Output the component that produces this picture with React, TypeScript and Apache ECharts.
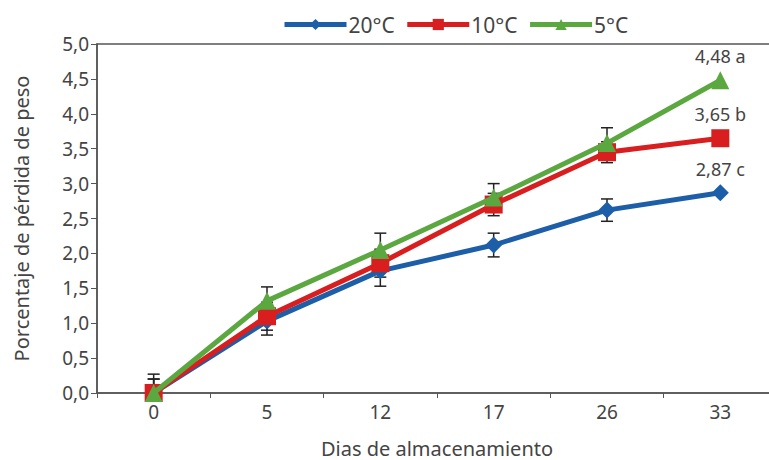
import React, { useEffect, useRef } from "react";
import * as echarts from "echarts";

const categories = ["0", "5", "12", "17", "26", "33"];
const yTicks = [0, 0.5, 1, 1.5, 2, 2.5, 3, 3.5, 4, 4.5, 5];
const seriesNames = ["20°C", "10°C", "5°C"];
const blueVals = [0.0, 1.03, 1.75, 2.12, 2.62, 2.87];
const redVals = [0.0, 1.1, 1.86, 2.7, 3.45, 3.65];
const greenVals = [0.0, 1.32, 2.05, 2.8, 3.58, 4.48];
const blueErr = [0.27, 0.2, 0.22, 0.17, 0.16, 0];
const redErr = [0.2, 0.2, 0.2, 0.16, 0.15, 0];
const greenErr = [0.2, 0.2, 0.24, 0.2, 0.22, 0];
const endLabels = ["2,87 c", "3,65 b", "4,48 a"];

const FONT = "'Noto Sans', sans-serif";
const TXT = "#444";

export default function App() {
  const ref = useRef<HTMLDivElement>(null);
  useEffect(() => {
    if (!ref.current) return;
    const chart = echarts.init(ref.current, undefined, { renderer: "svg" });

    const mk = (
      name: string,
      vals: number[],
      color: string,
      symbol: string,
      size: number,
      label: string,
      z: number
    ) => ({
      name,
      type: "line",
      z,
      data: vals.map((v, i) =>
        i === vals.length - 1
          ? {
              value: v,
              label: {
                show: true,
                formatter: label,
                position: "top",
                distance: 6,
                color: TXT,
                fontSize: 18,
                fontFamily: FONT,
              },
            }
          : v
      ),
      symbol,
      symbolSize: size,
      showSymbol: true,
      itemStyle: { color },
      lineStyle: { color, width: 5 },
    });

    const errData: number[][] = [];
    [blueVals, redVals, greenVals].forEach((vals, s) => {
      const errs = [blueErr, redErr, greenErr][s];
      vals.forEach((v, i) => {
        if (errs[i] > 0) errData.push([i, Math.max(0, v - errs[i]), v + errs[i]]);
      });
    });

    chart.setOption({
      animation: false,
      backgroundColor: "#ffffff",
      textStyle: { fontFamily: FONT },
      legend: {
        left: 277,
        top: 9,
        itemWidth: 62,
        itemHeight: 14,
        itemGap: 10,
        data: seriesNames,
        lineStyle: { width: 5 },
        textStyle: { fontSize: 21, color: TXT, fontFamily: FONT, padding: [0, 0, 0, -3] },
      },
      grid: {
        left: 97,
        top: 44,
        width: 680,
        height: 349,
        outerBoundsMode: "none",
        containLabel: false,
        show: true,
        borderColor: "#555",
        borderWidth: 1.5,
        backgroundColor: "transparent",
      },
      xAxis: {
        type: "category",
        data: categories,
        boundaryGap: true,
        name: "Dias de almacenamiento",
        nameLocation: "middle",
        nameGap: 45,
        nameTextStyle: { fontSize: 20, color: TXT, fontFamily: FONT },
        axisLine: { lineStyle: { color: "#555", width: 1.5 } },
        axisTick: { show: true, length: 5, lineStyle: { color: "#555" } },
        axisLabel: { fontSize: 19, color: TXT, margin: 9, fontFamily: FONT },
        splitLine: { show: false },
      },
      yAxis: {
        type: "value",
        min: yTicks[0],
        max: yTicks[yTicks.length - 1],
        interval: 0.5,
        name: "Porcentaje de pérdida de peso",
        nameLocation: "middle",
        nameGap: 66,
        nameTextStyle: { fontSize: 20, color: TXT, fontFamily: FONT },
        axisLine: { show: true, lineStyle: { color: "#555", width: 1.5 } },
        axisTick: { show: true, length: 6, lineStyle: { color: "#555" } },
        axisLabel: {
          fontSize: 19,
          color: TXT,
          margin: 8,
          fontFamily: FONT,
          formatter: (v: number) => v.toFixed(1).replace(".", ","),
        },
        splitLine: { show: false },
      },
      series: [
        {
          type: "custom",
          z: 1,
          silent: true,
          data: errData,
          renderItem: (params: any, api: any) => {
            const x = api.value(0);
            const lo = api.coord([x, api.value(1)]);
            const hi = api.coord([x, api.value(2)]);
            const hw = 6;
            const st = { stroke: "#222", lineWidth: 1.5 };
            return {
              type: "group",
              children: [
                { type: "line", shape: { x1: hi[0], y1: hi[1], x2: lo[0], y2: lo[1] }, style: st },
                { type: "line", shape: { x1: hi[0] - hw, y1: hi[1], x2: hi[0] + hw, y2: hi[1] }, style: st },
                { type: "line", shape: { x1: lo[0] - hw, y1: lo[1], x2: lo[0] + hw, y2: lo[1] }, style: st },
              ],
            };
          },
        },
        mk(seriesNames[0], blueVals, "#1d5ea8", "diamond", 17, endLabels[0], 2),
        mk(seriesNames[1], redVals, "#d81e1e", "rect", 18, endLabels[1], 3),
        mk(seriesNames[2], greenVals, "#5aa83f", "triangle", 18, endLabels[2], 4),
      ],
    });
    return () => chart.dispose();
  }, []);
  return (
    <div
      ref={ref}
      style={{ position: "absolute", left: 0, top: 0, width: 769, height: 460 }}
    />
  );
}
